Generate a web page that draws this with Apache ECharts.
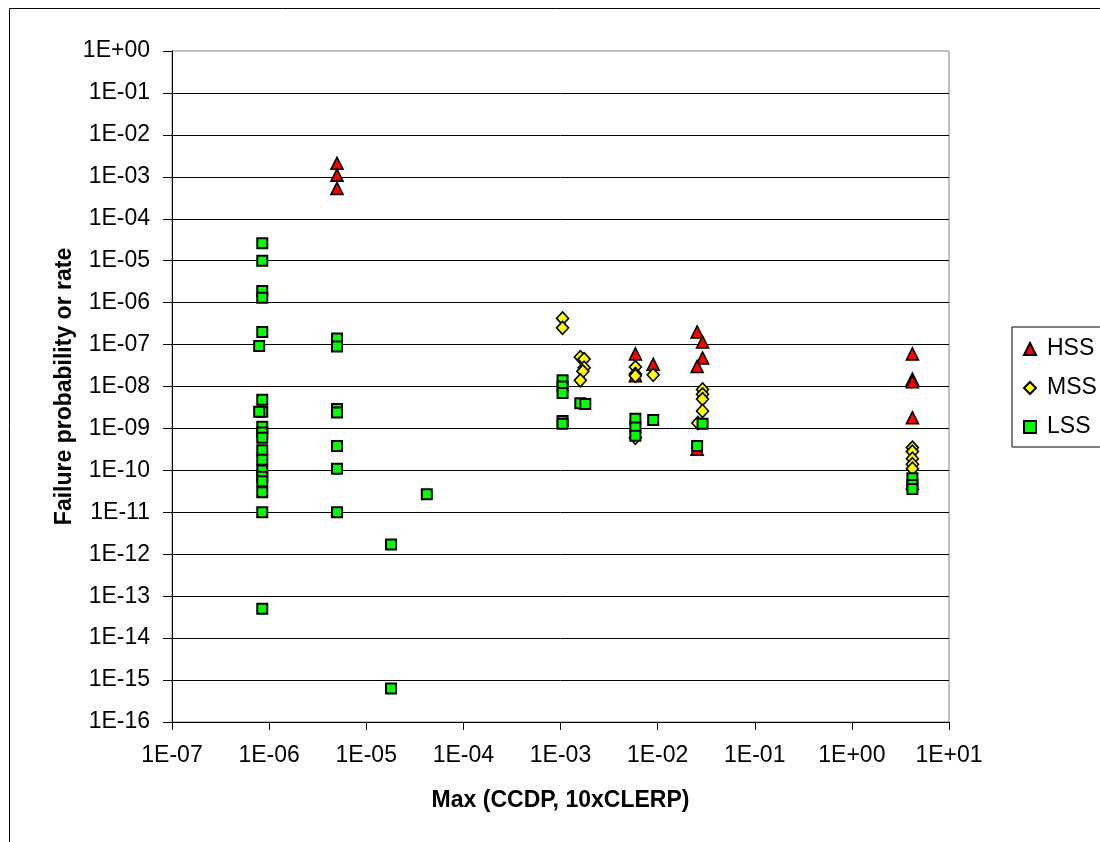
<!DOCTYPE html>
<html>
<head>
<meta charset="utf-8">
<script src="https://cdn.jsdelivr.net/npm/echarts@6/dist/echarts.min.js"></script>
<style>
  html, body { margin: 0; padding: 0; background: #fff; }
  #chart { width: 1100px; height: 842px; }
</style>
</head>
<body>
<div id="chart"></div>
<script>
// Failure probability (or rate) against Max(CCDP, 10xCLERP), by severity class
const seriesNames = ['HSS', 'MSS', 'LSS'];

const hssPoints = [
  [5e-6, 2.1e-3], [5e-6, 1.1e-3], [5e-6, 5.3e-4],
  [5.9e-3, 6e-8], [5.9e-3, 1.8e-8],
  [9e-3, 3.4e-8],
  [2.55e-2, 2e-7], [2.9e-2, 1.15e-7], [2.9e-2, 4.8e-8], [2.55e-2, 3e-8], [2.55e-2, 3.2e-10],
  [4.2, 6e-8], [4.2, 1.5e-8], [4.2, 1.3e-8], [4.2, 1.8e-9], [4.2, 5e-11]
];

const mssPoints = [
  [1.05e-3, 4.2e-7], [1.05e-3, 2.5e-7],
  [1.6e-3, 5e-8], [1.75e-3, 4.5e-8], [1.75e-3, 2.8e-8], [1.7e-3, 2.3e-8], [1.6e-3, 1.4e-8],
  [5.9e-3, 2.9e-8], [5.9e-3, 2e-8], [5.9e-3, 1.8e-8], [5.9e-3, 6e-10],
  [9e-3, 1.9e-8],
  [2.9e-2, 8.5e-9], [2.9e-2, 6.5e-9], [2.9e-2, 5e-9], [2.9e-2, 2.6e-9], [2.6e-2, 1.35e-9],
  [4.2, 3.5e-10], [4.2, 2.8e-10], [4.2, 1.9e-10], [4.2, 1.4e-10], [4.2, 1.1e-10]
];

const lssPoints = [
  [8.5e-7, 2.6e-5], [8.5e-7, 1e-5], [8.5e-7, 1.9e-6], [8.5e-7, 1.3e-6], [8.5e-7, 2e-7],
  [8.5e-7, 4.8e-9], [8.5e-7, 2.5e-9], [8.5e-7, 1.1e-9], [8.5e-7, 8e-10], [8.5e-7, 6e-10],
  [8.5e-7, 3e-10], [8.5e-7, 1.8e-10], [8.5e-7, 1e-10], [8.5e-7, 7e-11], [8.5e-7, 5.5e-11],
  [8.5e-7, 3e-11], [8.5e-7, 1e-11], [8.5e-7, 5e-14],
  [7.9e-7, 9.3e-8], [7.9e-7, 2.5e-9],
  [5e-6, 1.4e-7], [5e-6, 9e-8], [5e-6, 2.9e-9], [5e-6, 2.4e-9], [5e-6, 3.8e-10], [5e-6, 1.1e-10], [5e-6, 1e-11],
  [1.8e-5, 1.7e-12], [1.8e-5, 6.3e-16],
  [4.2e-5, 2.7e-11],
  [1.05e-3, 1.4e-8], [1.05e-3, 1e-8], [1.05e-3, 7e-9], [1.05e-3, 1.5e-9], [1.05e-3, 1.3e-9],
  [1.6e-3, 4e-9], [1.8e-3, 3.8e-9],
  [5.9e-3, 1.7e-9], [5.9e-3, 1.05e-9], [5.9e-3, 6.7e-10],
  [9e-3, 1.6e-9],
  [2.9e-2, 1.3e-9], [2.55e-2, 3.8e-10],
  [4.2, 6.5e-11], [4.2, 4.5e-11], [4.2, 3.6e-11]
];

const xRange = [1e-7, 10];
const yRange = [1e-16, 1];

const FONT = 'Liberation Sans, Arial, sans-serif';
const FONT_SIZE = 23;

// "1E-07" style scientific labels
function sciLabel(v) {
  const e = Math.round(Math.log10(v));
  return '1E' + (e < 0 ? '-' : '+') + String(Math.abs(e)).padStart(2, '0');
}

const chart = echarts.init(document.getElementById('chart'), null, { renderer: 'canvas' });

chart.setOption({
  animation: false,
  backgroundColor: '#fff',
  graphic: [{
    type: 'rect',
    shape: { x: 9.5, y: 8.5, width: 1300, height: 1000 },
    style: { fill: 'none', stroke: '#000', lineWidth: 1 },
    silent: true,
    z: -10
  }],
  grid: {
    left: 172, right: 151, top: 51, bottom: 120,
    show: true, borderColor: '#808080', borderWidth: 1, backgroundColor: 'transparent'
  },
  legend: {
    orient: 'vertical',
    left: 1012, top: 327,
    padding: [10, 10, 8, 11],
    itemGap: 15,
    itemWidth: 12, itemHeight: 12,
    borderColor: '#000', borderWidth: 1,
    textStyle: { fontFamily: FONT, fontSize: FONT_SIZE, color: '#000', lineHeight: 24, padding: [0, 0, 0, 6] },
    data: seriesNames
  },
  xAxis: {
    type: 'log', logBase: 10,
    min: xRange[0], max: xRange[1], interval: 1, splitNumber: 8,
    name: 'Max (CCDP, 10xCLERP)', nameLocation: 'middle', nameGap: 67,
    nameTextStyle: { fontFamily: FONT, fontSize: FONT_SIZE, fontWeight: 'bold', color: '#000' },
    axisLine: { onZero: false, lineStyle: { color: '#000', width: 1 } },
    axisTick: { show: true, inside: false, length: 8, lineStyle: { color: '#000' } },
    axisLabel: { formatter: sciLabel, margin: 22, fontFamily: FONT, fontSize: FONT_SIZE, color: '#000' },
    splitLine: { show: false },
    minorTick: { show: false }
  },
  yAxis: {
    type: 'log', logBase: 10,
    min: yRange[0], max: yRange[1], interval: 1, splitNumber: 16,
    name: 'Failure probability or rate', nameLocation: 'middle', nameGap: 96,
    nameMoveOverlap: false,
    nameTextStyle: { fontFamily: FONT, fontSize: FONT_SIZE, fontWeight: 'bold', color: '#000' },
    axisLine: { onZero: false, lineStyle: { color: '#000', width: 1 } },
    axisTick: { show: true, inside: false, length: 9, lineStyle: { color: '#000' } },
    axisLabel: { formatter: sciLabel, margin: 22, fontFamily: FONT, fontSize: FONT_SIZE, color: '#000' },
    splitLine: { show: true, showMaxLine: false, lineStyle: { color: '#000', width: 1 } },
    minorTick: { show: false }
  },
  series: [
    {
      name: 'HSS', type: 'scatter', data: hssPoints,
      symbol: 'triangle', symbolSize: 12,
      itemStyle: { color: '#ff0000', borderColor: '#000', borderWidth: 1.6, opacity: 1 }
    },
    {
      name: 'MSS', type: 'scatter', data: mssPoints,
      symbol: 'diamond', symbolSize: [12, 13],
      itemStyle: { color: '#ffff00', borderColor: '#000', borderWidth: 1.6, opacity: 1 }
    },
    {
      name: 'LSS', type: 'scatter', data: lssPoints,
      symbol: 'rect', symbolSize: 10,
      itemStyle: { color: '#00ff00', borderColor: '#000', borderWidth: 2, opacity: 1 }
    }
  ]
});
</script>
</body>
</html>
